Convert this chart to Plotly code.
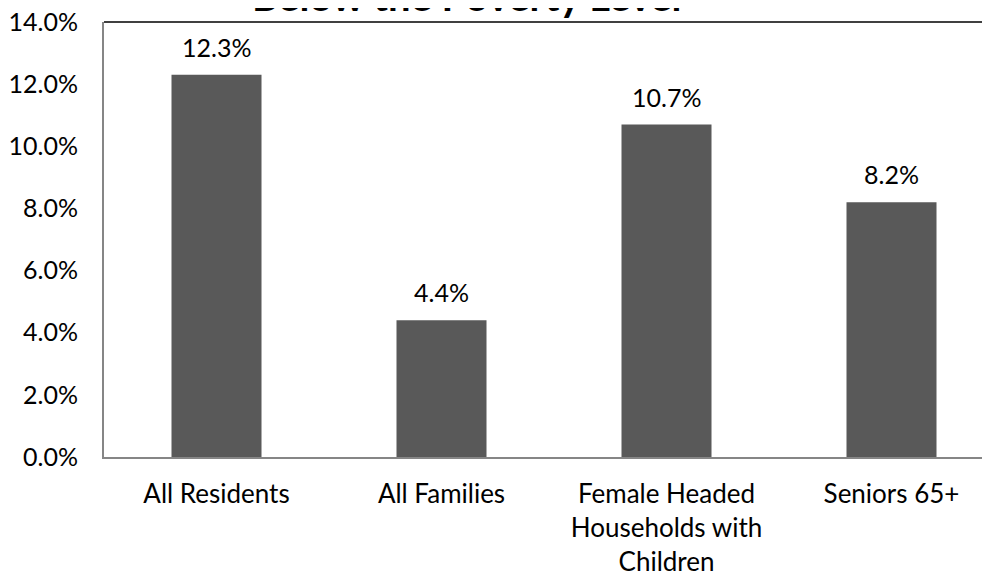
import plotly.graph_objects as go

categories = ["All Residents", "All Families", "Female Headed Households with Children", "Seniors 65+"]
tick_labels = ["All Residents", "All Families", "Female Headed<br>Households with<br>Children", "Seniors 65+"]
values = [0.123, 0.044, 0.107, 0.082]
y_ticks = [0.0, 0.02, 0.04, 0.06, 0.08, 0.10, 0.12, 0.14]
title_text = "Below the Poverty Level"

FONT = "Lato, Calibri, Carlito, sans-serif"
# page body has an 8px margin; figure is offset by it
W, H = 982, 571
L, R, T, B = 96, 0, 14, 122
PW = W - L - R

fig = go.Figure()
fig.add_trace(go.Bar(
    x=categories, y=values,
    marker=dict(color="#595959", line=dict(width=0)),
    width=0.4,
    hoverinfo="skip",
))

for c, v in zip(categories, values):
    fig.add_annotation(x=c, y=v, text=f"{v*100:.1f}%", showarrow=False,
                       yanchor="bottom", yshift=11,
                       font=dict(family=FONT, size=25, color="#000000"))

fig.add_annotation(xref="paper", yref="paper", x=(459 - L) / PW, y=1,
                   yshift=0, text=f"<b>{title_text}</b>", showarrow=False,
                   xanchor="center", yanchor="bottom",
                   font=dict(family=FONT, size=40, color="#000000"))

fig.add_shape(type="line", xref="paper", yref="paper", x0=0, x1=1, y0=1, y1=1,
              line=dict(color="#404040", width=2))

fig.update_layout(
    width=W, height=H,
    margin=dict(l=L, r=R, t=T, b=B, pad=0, autoexpand=False),
    paper_bgcolor="white", plot_bgcolor="white",
    showlegend=False,
    font=dict(family=FONT, size=25, color="#000000"),
    xaxis=dict(
        type="category",
        range=[-0.5, -0.5 + PW / 225.0],
        tickvals=categories, ticktext=tick_labels,
        showline=True, linecolor="#868686", linewidth=2,
        ticks="", showgrid=False, zeroline=False,
        tickfont=dict(family=FONT, size=26),
        ticklabelstandoff=13,
        ticklabeloverflow="allow",
        automargin=False,
        fixedrange=True,
    ),
    yaxis=dict(
        range=[0, 0.14],
        tickvals=y_ticks, tickformat=".1%",
        showline=True, linecolor="#868686", linewidth=2,
        ticks="", showgrid=False, zeroline=False,
        tickfont=dict(family=FONT, size=25),
        ticklabelstandoff=19,
        ticklabeloverflow="allow",
        automargin=False,
        fixedrange=True,
    ),
)

fig.write_html("out.html")
